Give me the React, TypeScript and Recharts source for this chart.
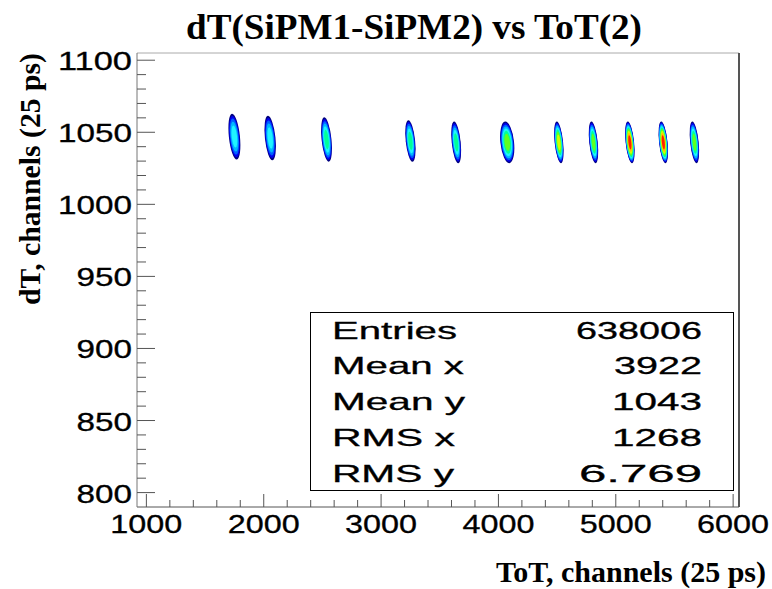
import { ReferenceLine, Scatter, ScatterChart, XAxis, YAxis } from 'recharts'

// peak positions of the ToT / dT clusters
const peakToT = [1750, 2055, 2535, 3250, 3640, 4075, 4515, 4810, 5120, 5405, 5670]
const peakDT = [1047, 1046, 1045, 1044, 1043, 1043, 1043, 1043, 1043, 1043, 1043]
// half widths of each cluster (channels)
const spreadToT = [47, 45, 42, 40, 38, 58, 36, 36, 36, 36, 36]
const spreadDT = [16, 15.5, 15.5, 14.5, 14.5, 14.5, 14.5, 14.5, 14.5, 14.5, 14.5]
// highest colour level reached in each cluster
const peakLevel = [4, 4, 5, 5, 5, 6, 7, 6, 9, 9, 6]

const xMajor = [1000, 2000, 3000, 4000, 5000, 6000]
const yMajor = [800, 850, 900, 950, 1000, 1050, 1100]

const statNames = ['Entries', 'Mean x', 'Mean y', 'RMS x', 'RMS y']
const statValues = ['638006', '3922', '1043', '1268', '6.769']

const X_MIN = 920
const X_MAX = 6050
const Y_MIN = 790
const Y_MAX = 1105

const W = 772
const H = 589
const LEFT = 137
const RIGHT = 33
const TOP = 53
const BOTTOM = 82
const PX_X = (W - LEFT - RIGHT) / (X_MAX - X_MIN)
const PX_Y = (H - TOP - BOTTOM) / (Y_MAX - Y_MIN)

const palette = [
  '#000080',
  '#0000f0',
  '#0060ff',
  '#00b8ff',
  '#20f4ff',
  '#00ff9a',
  '#60ff20',
  '#d0ff00',
  '#ffc000',
  '#ff2000',
]

const xTicks: number[] = []
for (let v = 1000; v <= 6000; v += 200) xTicks.push(v)
const yTicks: number[] = []
for (let v = 800; v <= 1100; v += 10) yTicks.push(v)

const data = peakToT.map((x, i) => ({
  x,
  y: peakDT[i],
  sx: spreadToT[i],
  sy: spreadDT[i],
  level: peakLevel[i],
}))

const sans = 'Liberation Sans, Arial, Helvetica, sans-serif'
const serif = 'Liberation Serif, Times New Roman, serif'

function Blob(props: any) {
  const { cx, cy, payload } = props
  const rx = payload.sx * PX_X
  const ry = payload.sy * PX_Y
  const n = payload.level + 1
  const rings = []
  for (let k = 0; k < n; k++) {
    const f = Math.sqrt(1 - k / (n + 0.2))
    rings.push(
      <ellipse key={k} cx={cx} cy={cy} rx={rx * f} ry={ry * f} fill={palette[k]} />
    )
  }
  return <g transform={`rotate(-6 ${cx} ${cy})`}>{rings}</g>
}

function XTick({ x, y, payload }: any) {
  const major = xMajor.includes(payload.value)
  return (
    <g>
      <line x1={x} x2={x} y1={y} y2={y - (major ? 13 : 7)} stroke="#555" />
      {major && (
        <text
          x={x}
          y={y + 26}
          textAnchor="middle"
          fontSize={25}
          fontFamily={sans}
          fill="#000"
          stroke="#000"
          strokeWidth={0.3}
          textLength={72}
          lengthAdjust="spacingAndGlyphs"
        >
          {payload.value}
        </text>
      )}
    </g>
  )
}

function YTick({ x, y, payload }: any) {
  const major = yMajor.includes(payload.value)
  const label = String(payload.value)
  return (
    <g>
      <line x1={x} x2={x + (major ? 18 : 9)} y1={y} y2={y} stroke="#555" />
      {major && (
        <text
          x={x - 5}
          y={y + 10}
          textAnchor="end"
          fontSize={25}
          fontFamily={sans}
          fill="#000"
          stroke="#000"
          strokeWidth={0.3}
          textLength={label.length * 18.5}
          lengthAdjust="spacingAndGlyphs"
        >
          {label}
        </text>
      )}
    </g>
  )
}

const nameWidths = [125, 132, 133, 123, 122]
const valueWidths = [126, 88, 90, 90, 123]

export default function App() {
  return (
    <div style={{ position: 'relative', width: W, height: H, background: '#fff' }}>
      <style>{'body{margin:0}'}</style>
      <ScatterChart width={W} height={H} margin={{ top: TOP, right: RIGHT, bottom: 0, left: 0 }}>
        <XAxis
          type="number"
          dataKey="x"
          domain={[X_MIN, X_MAX]}
          allowDataOverflow
          ticks={xTicks}
          interval={0}
          height={BOTTOM}
          tickSize={0}
          tickMargin={0}
          tickLine={false}
          tick={<XTick />}
          axisLine={{ stroke: '#555' }}
        />
        <YAxis
          type="number"
          dataKey="y"
          domain={[Y_MIN, Y_MAX]}
          allowDataOverflow
          ticks={yTicks}
          interval={0}
          width={LEFT}
          tickSize={0}
          tickMargin={0}
          tickLine={false}
          tick={<YTick />}
          axisLine={{ stroke: '#777' }}
        />
        <ReferenceLine y={Y_MAX} stroke="#aaa" />
        <ReferenceLine x={X_MAX} stroke="#555" strokeWidth={2} />
        <Scatter data={data} shape={<Blob />} isAnimationActive={false} />
      </ScatterChart>
      <svg
        width={W}
        height={H}
        style={{ position: 'absolute', left: 0, top: 0, pointerEvents: 'none' }}
      >
        <text
          x={414}
          y={39}
          textAnchor="middle"
          fontSize={36}
          fontWeight="bold"
          fontFamily={serif}
          textLength={456}
          lengthAdjust="spacingAndGlyphs"
        >
          dT(SiPM1-SiPM2) vs ToT(2)
        </text>
        <text
          x={766}
          y={582}
          textAnchor="end"
          fontSize={29}
          fontWeight="bold"
          fontFamily={serif}
          textLength={270}
          lengthAdjust="spacingAndGlyphs"
        >
          ToT, channels (25 ps)
        </text>
        <text
          transform="translate(40 53) rotate(-90)"
          textAnchor="end"
          fontSize={29}
          fontWeight="bold"
          fontFamily={serif}
          textLength={252}
          lengthAdjust="spacingAndGlyphs"
        >
          dT, channels (25 ps)
        </text>
        <rect x={310.5} y={312.5} width={423} height={178} fill="#fff" stroke="#000" />
        {statNames.map((name, i) => (
          <g key={name}>
            <text
              x={332}
              y={338.5 + i * 35.9}
              fontSize={24}
              fontFamily={sans}
              stroke="#000"
              strokeWidth={0.3}
              textLength={nameWidths[i]}
              lengthAdjust="spacingAndGlyphs"
            >
              {name}
            </text>
            <text
              x={702}
              y={338.5 + i * 35.9}
              textAnchor="end"
              fontSize={24}
              fontFamily={sans}
              stroke="#000"
              strokeWidth={0.3}
              textLength={valueWidths[i]}
              lengthAdjust="spacingAndGlyphs"
            >
              {statValues[i]}
            </text>
          </g>
        ))}
      </svg>
    </div>
  )
}
